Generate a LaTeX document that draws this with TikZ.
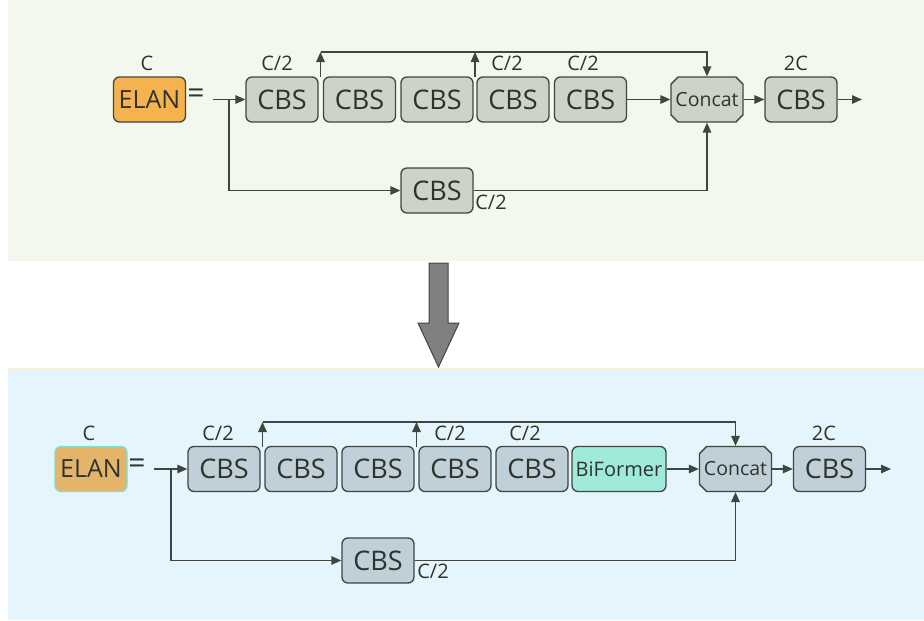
\documentclass[tikz,border=0pt]{standalone}
\usepackage{fontspec}
\setmainfont{Open Sans}
\usetikzlibrary{arrows.meta,shapes.misc}

\definecolor{bgtop}{HTML}{F3F8EE}
\definecolor{bgbot}{HTML}{E4F5FD}
\definecolor{edge}{HTML}{41453F}
\definecolor{ink}{HTML}{2F332E}
\definecolor{cbstop}{HTML}{CED3CA}
\definecolor{cbsbot}{HTML}{BFD0D8}
\definecolor{elantop}{HTML}{F5B350}
\definecolor{elanbot}{HTML}{E5B46B}
\definecolor{elanrim}{HTML}{7EE0C8}
\definecolor{biform}{HTML}{A0EADC}
\definecolor{bigarrow}{HTML}{808080}

\tikzset{
  x=1pt, y=-1pt,
  blk/.style={draw=edge, line width=1.3pt, rounded corners=6pt,
    minimum width=72pt, minimum height=45pt, inner sep=0pt,
    text=ink, font=\fontsize{27}{27}\selectfont},
  cbsT/.style={blk, fill=cbstop},
  cbsB/.style={blk, fill=cbsbot},
  elanbox/.style={blk, font=\fontsize{25}{25}\selectfont},
  concatbox/.style={chamfered rectangle, chamfered rectangle xsep=8pt,
    chamfered rectangle ysep=8pt, draw=edge, line width=1.3pt,
    minimum width=72pt, minimum height=45pt, inner sep=0pt,
    text=ink, font=\fontsize{19.5}{19.5}\selectfont},
  lbl/.style={text=ink, font=\fontsize{20}{20}\selectfont, inner sep=0pt},
  eqsign/.style={text=ink, font=\fontsize{30}{30}\selectfont, inner sep=0pt},
  wire/.style={draw=edge, line width=1.4pt},
  flow/.style={wire, -{Triangle[length=10pt,width=8.5pt]}},
}
% centred text of zero width, so the chamfer size alone sets the box
\newcommand{\ctext}[1]{\makebox[0pt]{#1}}

\begin{document}
\begin{tikzpicture}
\useasboundingbox (0,0) rectangle (924,621);

% panel backgrounds
\fill[bgtop] (8,0) rectangle (924,261);
\fill[bgbot] (8,368) rectangle (924,620);
\draw[draw={rgb,255:red,250;green,238;blue,214}, line width=1.2pt] (8,368.5) -- (924,368.5);

% ---------- original ELAN ----------
\node[elanbox, fill=elantop] (elanA) at (149.5,99.5) {ELAN};
\node[lbl] (cA) at (147,63) {C};
\node[eqsign] (eqA) at (196,96) {=};

\node[cbsT] (a1) at (282,99.5) {CBS};
\node[cbsT] (a2) at (359.5,99.5) {CBS};
\node[cbsT] (a3) at (437,99.5) {CBS};
\node[cbsT] (a4) at (513,99.5) {CBS};
\node[cbsT] (a5) at (590.5,99.5) {CBS};
\node[concatbox, fill=cbstop] (catA) at (707,99.5) {\ctext{Concat}};
\node[cbsT] (outA) at (801,99.5) {CBS};
\node[cbsT] (lowA) at (437,190.5) {CBS};

\node[lbl] at (277,63) {C/2};
\node[lbl] at (507,63) {C/2};
\node[lbl] at (583,63) {C/2};
\node[lbl] at (796,63) {2C};
\node[lbl] at (491,202) {C/2};

\coordinate (inA) at (213,99.5);
\coordinate (brA) at (229,99.5);
\coordinate (tapA1) at (320.5,77);
\coordinate (tapA2) at (475,77);
\coordinate (railA) at (320.5,52);
\coordinate (endA) at (862,99.5);

\draw[flow] (inA) -- (a1.west);
\draw[flow] (brA) |- (lowA.west);
\draw[flow] (tapA1) -- (railA);
\draw[flow] (tapA2) -- (tapA2 |- railA);
\draw[flow] (railA) -| (catA.north);
\draw[flow] (a5.east) -- (catA.west);
\draw[flow] (lowA.east) -| (catA.south);
\draw[flow] (catA.east) -- (outA.west);
\draw[flow] (outA.east) -- (endA);

% ---------- transition arrow ----------
\draw[draw=edge, line width=1pt, fill=bigarrow, line join=miter]
  (429,263) -- (448,263) -- (448,323) -- (459,323) -- (438.5,367)
  -- (418,323) -- (429,323) -- cycle;

% ---------- ELAN with BiFormer ----------
\node[elanbox, fill=elanbot, draw=elanrim] (elanB) at (91,469) {ELAN};
\node[lbl] (cB) at (89,433) {C};
\node[eqsign] (eqB) at (137,466) {=};

\node[cbsB] (b1) at (224,469) {CBS};
\node[cbsB] (b2) at (301,469) {CBS};
\node[cbsB] (b3) at (378,469) {CBS};
\node[cbsB] (b4) at (455,469) {CBS};
\node[cbsB] (b5) at (532,469) {CBS};
\node[blk, fill=biform, minimum width=94pt, font=\fontsize{20}{20}\selectfont]
  (bif) at (619,469) {BiFormer};
\node[concatbox, fill=cbsbot] (catB) at (735.5,469) {\ctext{Concat}};
\node[cbsB] (outB) at (829.5,469) {CBS};
\node[cbsB] (lowB) at (378,560.5) {CBS};

\node[lbl] at (218,433) {C/2};
\node[lbl] at (450,433) {C/2};
\node[lbl] at (525,433) {C/2};
\node[lbl] at (824,433) {2C};
\node[lbl] at (433,571) {C/2};

\coordinate (inB) at (154,469);
\coordinate (brB) at (171,469);
\coordinate (tapB1) at (262.5,446.5);
\coordinate (tapB2) at (416.5,446.5);
\coordinate (railB) at (262.5,422);
\coordinate (endB) at (891,469);

\draw[flow] (inB) -- (b1.west);
\draw[flow] (brB) |- (lowB.west);
\draw[flow] (tapB1) -- (railB);
\draw[flow] (tapB2) -- (tapB2 |- railB);
\draw[flow] (railB) -| (catB.north);
\draw[flow] (bif.east) -- (catB.west);
\draw[flow] (lowB.east) -| (catB.south);
\draw[flow] (catB.east) -- (outB.west);
\draw[flow] (outB.east) -- (endB);
\end{tikzpicture}
\end{document}
